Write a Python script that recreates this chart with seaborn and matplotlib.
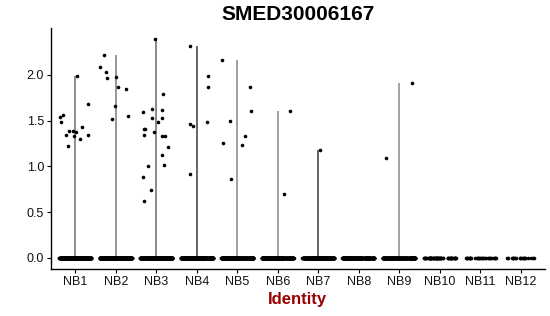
import numpy as np
import pandas as pd
import matplotlib
matplotlib.use("Agg")
import matplotlib.pyplot as plt
import seaborn as sns

categories = ["NB1", "NB2", "NB3", "NB4", "NB5", "NB6", "NB7", "NB8", "NB9", "NB10", "NB11", "NB12"]

nb1 = [1.99, 1.43, 1.39, 1.37, 1.34, 1.68, 1.56, 1.34, 1.49, 1.39, 1.54, 1.33, 1.30, 1.22]
nb2 = [2.22, 2.09, 2.03, 1.97, 1.98, 1.87, 1.84, 1.66, 1.55, 1.52]
nb3 = [2.39, 1.79, 1.62, 1.63, 1.59, 1.53, 1.53, 1.48, 1.41, 1.41, 1.38, 1.33, 1.34, 1.33,
       1.21, 1.12, 1.01, 1.00, 0.88, 0.74, 0.62]
nb4 = [2.32, 1.99, 1.87, 1.49, 1.46, 1.44, 0.92]
nb5 = [2.16, 1.87, 1.60, 1.50, 1.33, 1.26, 1.23, 0.86]
nb6 = [1.60, 0.70]
nb7 = [1.18]
nb8 = []
nb9 = [1.91, 1.09]
nb10 = []
nb11 = []
nb12 = []
nonzero = [nb1, nb2, nb3, nb4, nb5, nb6, nb7, nb8, nb9, nb10, nb11, nb12]
zero_counts = [300, 300, 300, 300, 300, 260, 260, 250, 220, 60, 30, 20]

violin_colors = ["#707070", "#7a7a7a", "#6a6a6a", "#3a3a3a", "#858585", "#8a8a8a",
                 "#3a3a3a", "#888888", "#8a8a8a", "#888888", "#888888", "#888888"]

rows = []
for cat, vals, nz in zip(categories, nonzero, zero_counts):
    for v in vals:
        rows.append((cat, v))
    for _ in range(nz):
        rows.append((cat, 0.0))
df = pd.DataFrame(rows, columns=["Identity", "expr"])

sns.set_theme(style="ticks")
plt.rcParams["font.family"] = ["Liberation Sans", "DejaVu Sans"]

fig = plt.figure(figsize=(5.5, 3.16), dpi=100)
ax = fig.add_axes([0.0927, 0.149, 0.898, 0.762])

# thin violins (density collapsed to a line from 0 to the maximum)
for i, (vals, col) in enumerate(zip(nonzero, violin_colors)):
    top = max(vals) if len(vals) else 0.0
    if top > 0:
        ax.vlines(i, 0, top, color=col, linewidth=1.1, zorder=1)

np.random.seed(3)
sns.stripplot(data=df, x="Identity", y="expr", order=categories, jitter=0.4,
              color="black", size=2.6, linewidth=0, ax=ax, zorder=3)

ax.set_xlim(-0.6, 11.6)
ax.set_ylim(-0.12, 2.51)
ax.set_yticks([0.0, 0.5, 1.0, 1.5, 2.0])
ax.set_yticklabels(["0.0", "0.5", "1.0", "1.5", "2.0"])
ax.tick_params(axis="both", labelsize=9, length=3, width=0.8, color="black", labelcolor="#111111", pad=2)
for s in ["top", "right"]:
    ax.spines[s].set_visible(False)
for s in ["left", "bottom"]:
    ax.spines[s].set_color("black")
    ax.spines[s].set_linewidth(1.0)

ax.set_ylabel("")
ax.set_xlabel("Identity", fontsize=12, fontweight="bold", color="#990000", labelpad=3)
ax.set_title("SMED30006167", fontsize=15, fontweight="bold", color="black", pad=6)

fig.savefig("out.png", dpi=100)
